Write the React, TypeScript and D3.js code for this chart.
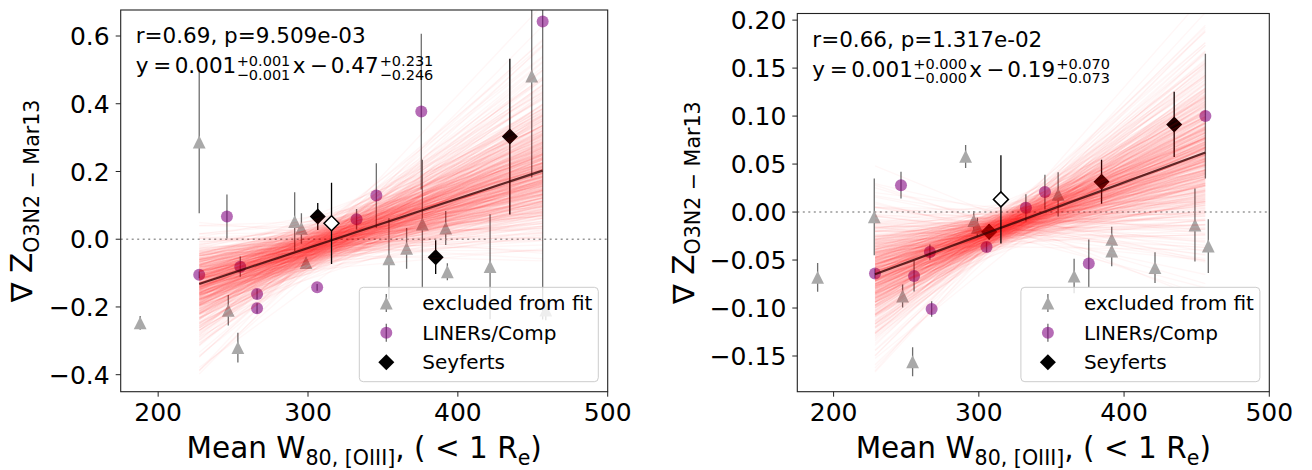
import React from 'react';
import * as d3 from 'd3';

const FONT = "'DejaVu Sans', sans-serif";

// ---------------- shared ----------------
const X_DOMAIN: [number, number] = [175, 500];
const X_TICKS = [200, 300, 400, 500];
const LEGEND_LABELS = ['excluded from fit', 'LINERs/Comp', 'Seyferts'];

// ---------------- left panel data ----------------
const leftExclX = [188, 227.4, 246.8, 253.2, 291.1, 295.6, 298.7, 354, 365.8, 376.3, 391.9, 393, 421.5, 449.3, 458.7];
const leftExclY = [-0.247, 0.287, -0.21, -0.32, 0.052, 0.032, -0.069, -0.058, -0.027, 0.045, 0.033, -0.096, -0.081, 0.482, -0.209];
const leftExclErr = [0.02, 0.21, 0.045, 0.044, 0.087, 0.045, 0.01, 0.12, 0.06, 0.19, 0.05, 0.025, 0.155, 0.3, 0.03];
const leftLinerX = [227.4, 245.9, 254.8, 266, 266, 306.1, 332.4, 345.6, 375.6, 456.6];
const leftLinerY = [-0.105, 0.067, -0.081, -0.162, -0.204, -0.142, 0.059, 0.129, 0.377, 0.643];
const leftLinerErr = [0.01, 0.065, 0.03, 0.015, 0.015, 0.01, 0.03, 0.095, 0.23, 0.88];
const leftSeyX = [306.5, 385.2, 434.7];
const leftSeyY = [0.067, -0.053, 0.303];
const leftSeyErr = [0.04, 0.05, 0.23];
const leftOpenX = [315.7];
const leftOpenY = [0.047];
const leftOpenErr = [0.12];
const leftFit = [0.00146, -0.464]; // slope, intercept
const leftPosterior = [310, 0.032, 0.00062, 0.32, 0.0]; // pivot x, sigma at pivot, slope sigma, upper skew, lower skew
const leftYDomain: [number, number] = [-0.4502, 0.6768];
const leftYTicks = [-0.4, -0.2, 0, 0.2, 0.4, 0.6];
const leftStats = 'r=0.69, p=9.509e-03';
const leftEq = ['0.001', '+0.001', '\u22120.001', '0.47', '+0.231', '\u22120.246'];

// ---------------- right panel data ----------------
const rightExclX = [189, 228, 247.5, 254.4, 290.9, 296.5, 299, 354.6, 365.6, 391.5, 391.5, 421.3, 448.8, 458];
const rightExclY = [-0.068, -0.005, -0.0875, -0.156, 0.058, -0.009, -0.016, 0.0184, -0.0667, -0.0284, -0.0406, -0.058, -0.0135, -0.0354];
const rightExclErr = [0.015, 0.04, 0.012, 0.015, 0.012, 0.01, 0.01, 0.023, 0.018, 0.013, 0.016, 0.016, 0.038, 0.028];
const rightLinerX = [228.5, 246.4, 255.4, 266.3, 267.5, 305.3, 332.4, 345.5, 375.7, 456];
const rightLinerY = [-0.064, 0.028, -0.0667, -0.0417, -0.101, -0.0365, 0.0045, 0.021, -0.0535, 0.1];
const rightLinerErr = [0.005, 0.014, 0.016, 0.008, 0.008, 0.005, 0.014, 0.018, 0.025, 0.065];
const rightSeyX = [307.1, 384.5, 434.5];
const rightSeyY = [-0.0205, 0.0316, 0.0913];
const rightSeyErr = [0.008, 0.023, 0.034];
const rightOpenX = [315.2];
const rightOpenY = [0.0132];
const rightOpenErr = [0.046];
const rightFit = [0.000557, -0.192];
const rightPosterior = [318, 0.009, 0.00027, 0.2, 0.15];
const rightYDomain: [number, number] = [-0.1872, 0.2069];
const rightYTicks = [-0.15, -0.1, -0.05, 0, 0.05, 0.1, 0.15, 0.2];
const rightStats = 'r=0.66, p=1.317e-02';
const rightEq = ['0.001', '+0.000', '\u22120.000', '0.19', '+0.070', '\u22120.073'];

const N_SAMPLES = 600;

function halton(i: number, b: number): number {
  let f = 1, r = 0;
  while (i > 0) {
    f /= b;
    r += f * (i % b);
    i = Math.floor(i / b);
  }
  return r;
}

function invNorm(p: number): number {
  const a = [-3.969683028665376e1, 2.209460984245205e2, -2.759285104469687e2, 1.38357751867269e2, -3.066479806614716e1, 2.506628277459239];
  const b = [-5.447609879822406e1, 1.615858368580409e2, -1.556989798598866e2, 6.680131188771972e1, -1.328068155288572e1];
  const c = [-7.784894002430293e-3, -3.223964580411365e-1, -2.400758277161838, -2.549732539343734, 4.374664141464968, 2.938163982698783];
  const d = [7.784695709041462e-3, 3.224671290700398e-1, 2.445134137142996, 3.754408661907416];
  const pl = 0.02425;
  let q: number, r: number;
  if (p < pl) {
    q = Math.sqrt(-2 * Math.log(p));
    return (((((c[0] * q + c[1]) * q + c[2]) * q + c[3]) * q + c[4]) * q + c[5]) / ((((d[0] * q + d[1]) * q + d[2]) * q + d[3]) * q + 1);
  }
  if (p <= 1 - pl) {
    q = p - 0.5;
    r = q * q;
    return ((((((a[0] * r + a[1]) * r + a[2]) * r + a[3]) * r + a[4]) * r + a[5]) * q) / (((((b[0] * r + b[1]) * r + b[2]) * r + b[3]) * r + b[4]) * r + 1);
  }
  q = Math.sqrt(-2 * Math.log(1 - p));
  return -(((((c[0] * q + c[1]) * q + c[2]) * q + c[3]) * q + c[4]) * q + c[5]) / ((((d[0] * q + d[1]) * q + d[2]) * q + d[3]) * q + 1);
}

const triPath = (x: number, y: number, s: number) => `M${x},${y - s}L${x - s},${y + s}L${x + s},${y + s}Z`;
const diaPath = (x: number, y: number, s: number) => `M${x},${y - s}L${x + s},${y}L${x},${y + s}L${x - s},${y}Z`;

type Group = { x: number[]; y: number[]; e: number[] };

type PanelProps = {
  id: string;
  left: number; top: number; right: number; bottom: number;
  yDomain: [number, number];
  yTicks: number[];
  yFmt: (v: number) => string;
  excl: Group; liner: Group; sey: Group; open: Group;
  fit: number[];
  post: number[];
  stats: string;
  eq: string[];
  yLabelX: number;
};

function Panel(p: PanelProps) {
  const xs = d3.scaleLinear().domain(X_DOMAIN).range([p.left, p.right]);
  const ys = d3.scaleLinear().domain(p.yDomain).range([p.bottom, p.top]);
  const fitXs = [...p.liner.x, ...p.sey.x, ...p.open.x];
  const [x1, x2] = d3.extent(fitXs) as [number, number];
  const [slope, intercept] = p.fit;
  const [px0, sp, ss, skP, skN] = p.post;
  const y0 = slope * px0 + intercept;
  const line = d3.line<[number, number]>().x((d) => xs(d[0])).y((d) => ys(d[1]));

  const samples = d3.range(N_SAMPLES).map((i) => {
    const z1 = invNorm(halton(i + 1, 2));
    const z2 = invNorm(halton(i + 1, 3));
    const ds = ss * z2 * (1 + (z2 > 0 ? skP : skN) * Math.abs(z2));
    const dp = sp * z1;
    const f = (x: number) => y0 + dp + (slope + ds) * (x - px0);
    return line([[x1, f(x1)], [x2, f(x2)]]) as string;
  });
  const fitPath = line([[x1, slope * x1 + intercept], [x2, slope * x2 + intercept]]) as string;

  const errBars = (g: Group, color: string, op: number) =>
    g.x.map((x, i) => (
      <line key={i} x1={xs(x)} x2={xs(x)} y1={ys(g.y[i] - g.e[i])} y2={ys(g.y[i] + g.e[i])}
        stroke={color} strokeOpacity={op} strokeWidth={1.3} />
    ));

  const w = p.right - p.left;
  const h = p.bottom - p.top;
  const legW = 239;
  const legH = 94.4;
  const legX = p.right - 9.4 - legW;
  const legY = p.bottom - 10 - legH;
  const rows = [15.8, 45.5, 75];
  const eqOff = [0, 17.5, 39, 101, 157, 174, 195, 244];
  const ex = p.left + 15;
  const eqY = p.top + 63.3;

  return (
    <g>
      <defs>
        <clipPath id={p.id}>
          <rect x={p.left} y={p.top} width={w} height={h} />
        </clipPath>
      </defs>
      <g clipPath={`url(#${p.id})`}>
        {errBars(p.excl, '#555', 0.85)}
        {errBars(p.liner, '#555', 0.85)}
        {errBars(p.sey, '#000', 1)}
        {p.excl.x.map((x, i) => (
          <path key={i} d={triPath(xs(x), ys(p.excl.y[i]), 6.4)} fill="#a9a9a9" />
        ))}
        {p.liner.x.map((x, i) => (
          <circle key={i} cx={xs(x)} cy={ys(p.liner.y[i])} r={6} fill="purple" fillOpacity={0.58} />
        ))}
        {p.sey.x.map((x, i) => (
          <path key={i} d={diaPath(xs(x), ys(p.sey.y[i]), 8)} fill="#000" />
        ))}
        <line x1={p.left} x2={p.right} y1={ys(0)} y2={ys(0)} stroke="#999" strokeWidth={1.6} strokeDasharray="2,3.5" />
        {samples.map((d, i) => (
          <path key={i} d={d} stroke="#ff0000" strokeOpacity={0.034} strokeWidth={1.4} fill="none" />
        ))}
        <path d={fitPath} stroke="#3a0505" strokeOpacity={0.8} strokeWidth={2.2} fill="none" />
        {errBars(p.open, '#000', 1)}
        {p.open.x.map((x, i) => (
          <path key={i} d={diaPath(xs(x), ys(p.open.y[i]), 7.5)} fill="#fff" stroke="#000" strokeWidth={1.5} />
        ))}
      </g>

      {/* frame */}
      <rect x={p.left} y={p.top} width={w} height={h} fill="none" stroke="#222" strokeWidth={1.1} />

      {/* x ticks */}
      {X_TICKS.map((t) => (
        <g key={t}>
          <line x1={xs(t)} x2={xs(t)} y1={p.bottom} y2={p.bottom + 5} stroke="#222" strokeWidth={1} />
          <text x={xs(t)} y={p.bottom + 29.3} textAnchor="middle" fontSize={25}>{t}</text>
        </g>
      ))}
      {/* y ticks */}
      {p.yTicks.map((t) => (
        <g key={t}>
          <line x1={p.left - 5} x2={p.left} y1={ys(t)} y2={ys(t)} stroke="#222" strokeWidth={1} />
          <text x={p.left - 11} y={ys(t) + 9.1} textAnchor="end" fontSize={25}>{p.yFmt(t)}</text>
        </g>
      ))}

      {/* x label */}
      <text x={(p.left + p.right) / 2} y={p.bottom + 66.6} textAnchor="middle" fontSize={29.5}>
        <tspan>Mean W</tspan>
        <tspan fontSize={20.6} dy={6.5}>80, [OIII]</tspan>
        <tspan dy={-6.5}>, ( &lt; 1 R</tspan>
        <tspan fontSize={20.6} dy={6.5}>e</tspan>
        <tspan dy={-6.5}>)</tspan>
      </text>

      {/* y label */}
      <text transform={`translate(${p.yLabelX},${(p.top + p.bottom) / 2}) rotate(-90)`} textAnchor="middle" fontSize={29.5}>
        <tspan>{'\u2207 Z'}</tspan>
        <tspan fontSize={20.6} dy={6.7}>{'O3N2 \u2212 Mar13'}</tspan>
      </text>

      {/* annotation */}
      <text x={ex} y={p.top + 33.3} fontSize={21.5}>{p.stats}</text>
      <g fontSize={21.5}>
        <text x={ex + eqOff[0]} y={eqY}>y</text>
        <text x={ex + eqOff[1]} y={eqY}>=</text>
        <text x={ex + eqOff[2]} y={eqY}>{p.eq[0]}</text>
        <text x={ex + eqOff[3]} y={eqY - 7.8} fontSize={14.5}>{p.eq[1]}</text>
        <text x={ex + eqOff[3]} y={eqY + 6.2} fontSize={14.5}>{p.eq[2]}</text>
        <text x={ex + eqOff[4]} y={eqY}>x</text>
        <text x={ex + eqOff[5]} y={eqY}>{'\u2212'}</text>
        <text x={ex + eqOff[6]} y={eqY}>{p.eq[3]}</text>
        <text x={ex + eqOff[7]} y={eqY - 7.8} fontSize={14.5}>{p.eq[4]}</text>
        <text x={ex + eqOff[7]} y={eqY + 6.2} fontSize={14.5}>{p.eq[5]}</text>
      </g>

      {/* legend */}
      <g>
        <rect x={legX} y={legY} width={legW} height={legH} rx={4} fill="#fff" fillOpacity={0.8} stroke="#ccc" strokeWidth={1} />
        <line x1={legX + 27} x2={legX + 27} y1={legY + rows[0] - 9} y2={legY + rows[0] + 9} stroke="#555" strokeOpacity={0.85} strokeWidth={1.3} />
        <path d={triPath(legX + 27, legY + rows[0], 6.4)} fill="#a9a9a9" />
        <line x1={legX + 27} x2={legX + 27} y1={legY + rows[1] - 9} y2={legY + rows[1] + 9} stroke="#555" strokeOpacity={0.85} strokeWidth={1.3} />
        <circle cx={legX + 27} cy={legY + rows[1]} r={6} fill="purple" fillOpacity={0.58} />
        <path d={diaPath(legX + 27, legY + rows[2], 8)} fill="#000" />
        {LEGEND_LABELS.map((l, i) => (
          <text key={l} x={legX + 63} y={legY + rows[i] + 7} fontSize={20}>{l}</text>
        ))}
      </g>
    </g>
  );
}

export default function App() {
  const f1 = d3.format('.1f');
  const f2 = d3.format('.2f');
  return (
    <svg width={1312} height={470} style={{ position: 'absolute', left: 0, top: 0, background: '#fff' }}
      fontFamily={FONT} fill="#000">
      <rect x={0} y={0} width={1312} height={470} fill="#fff" />
      <Panel id="clipL" left={120.7} top={10} right={607.7} bottom={391.7}
        yDomain={leftYDomain} yTicks={leftYTicks} yFmt={(v) => f1(v)}
        excl={{ x: leftExclX, y: leftExclY, e: leftExclErr }}
        liner={{ x: leftLinerX, y: leftLinerY, e: leftLinerErr }}
        sey={{ x: leftSeyX, y: leftSeyY, e: leftSeyErr }}
        open={{ x: leftOpenX, y: leftOpenY, e: leftOpenErr }}
        fit={leftFit} post={leftPosterior} stats={leftStats} eq={leftEq} yLabelX={32} />
      <Panel id="clipR" left={797.3} top={13.5} right={1269.3} bottom={391.7}
        yDomain={rightYDomain} yTicks={rightYTicks} yFmt={(v) => f2(v)}
        excl={{ x: rightExclX, y: rightExclY, e: rightExclErr }}
        liner={{ x: rightLinerX, y: rightLinerY, e: rightLinerErr }}
        sey={{ x: rightSeyX, y: rightSeyY, e: rightSeyErr }}
        open={{ x: rightOpenX, y: rightOpenY, e: rightOpenErr }}
        fit={rightFit} post={rightPosterior} stats={rightStats} eq={rightEq} yLabelX={693.5} />
    </svg>
  );
}
